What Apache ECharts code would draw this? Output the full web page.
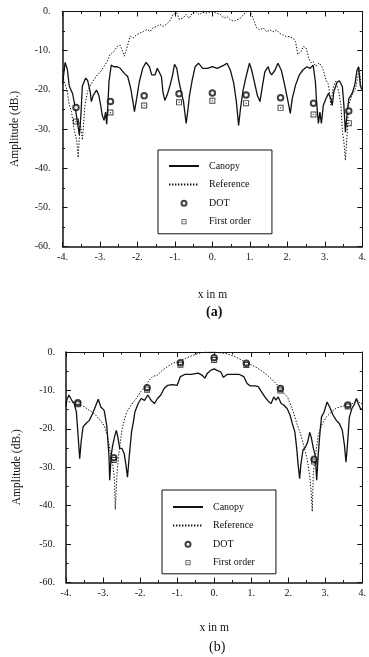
<!DOCTYPE html>
<html><head><meta charset="utf-8">
<script src="https://cdn.jsdelivr.net/npm/echarts@6/dist/echarts.min.js"></script>
<style>html,body{margin:0;padding:0;background:#fff}#c{width:369px;height:657px}</style>
</head><body><div id="c"></div>
<script>
// ---------- data (x in m, amplitude in dB) ----------
const xTicks = [-4, -3, -2, -1, 0, 1, 2, 3, 4];
const yTicks = [-60, -50, -40, -30, -20, -10, 0];
const legendNames = ['Canopy', 'Reference', 'DOT', 'First order'];

// panel (a)
const canopyA = [[-4.0,-18.5],[-3.93,-13.0],[-3.87,-14.8],[-3.82,-19.0],[-3.73,-21.0],[-3.67,-24.0],[-3.60,-28.3],[-3.55,-31.5],[-3.51,-26.6],[-3.47,-19.0],[-3.38,-17.0],[-3.33,-17.6],[-3.26,-20.5],[-3.23,-23.0],[-3.18,-21.4],[-3.09,-20.1],[-3.03,-21.4],[-2.98,-24.0],[-2.94,-26.5],[-2.89,-27.8],[-2.85,-25.7],[-2.82,-28.8],[-2.79,-24.0],[-2.76,-18.0],[-2.70,-13.7],[-2.63,-14.1],[-2.54,-14.1],[-2.46,-14.5],[-2.35,-15.8],[-2.26,-16.6],[-2.18,-19.6],[-2.12,-23.0],[-2.08,-25.6],[-2.02,-22.2],[-1.95,-18.0],[-1.86,-14.5],[-1.77,-13.0],[-1.68,-14.1],[-1.62,-16.2],[-1.53,-16.2],[-1.47,-14.5],[-1.42,-15.0],[-1.36,-16.6],[-1.32,-20.5],[-1.27,-22.7],[-1.21,-21.4],[-1.14,-19.2],[-1.07,-16.6],[-1.01,-13.5],[-0.95,-14.5],[-0.89,-18.0],[-0.83,-20.5],[-0.77,-23.0],[-0.70,-28.6],[-0.66,-25.7],[-0.61,-21.4],[-0.54,-17.6],[-0.46,-14.1],[-0.37,-13.2],[-0.26,-14.5],[-0.13,-14.5],[0,-14.1],[0.13,-14.5],[0.31,-13.7],[0.39,-13.2],[0.48,-15.0],[0.57,-18.3],[0.64,-23.0],[0.70,-29.1],[0.75,-24.8],[0.82,-20.1],[0.90,-16.6],[0.99,-13.2],[1.05,-15.0],[1.14,-18.8],[1.20,-21.4],[1.27,-23.0],[1.34,-18.8],[1.40,-15.4],[1.49,-14.1],[1.53,-15.4],[1.58,-16.2],[1.67,-15.0],[1.75,-13.2],[1.84,-15.0],[1.93,-18.8],[2.02,-23.0],[2.08,-26.0],[2.13,-22.3],[2.22,-18.8],[2.32,-16.2],[2.41,-15.0],[2.52,-14.1],[2.61,-14.5],[2.69,-13.7],[2.75,-18.0],[2.78,-23.0],[2.83,-28.6],[2.87,-25.7],[2.91,-28.6],[2.96,-24.0],[3.03,-22.3],[3.10,-20.9],[3.16,-22.3],[3.20,-24.0],[3.24,-20.5],[3.33,-18.0],[3.39,-17.7],[3.47,-19.2],[3.51,-24.0],[3.55,-30.8],[3.60,-25.7],[3.64,-22.3],[3.73,-20.9],[3.80,-18.8],[3.86,-15.0],[3.90,-14.1],[3.95,-19.0],[4.0,-20.0]];
const referenceA = [[-4.0,-16.5],[-3.95,-16.6],[-3.88,-20.0],[-3.82,-23.8],[-3.76,-25.5],[-3.70,-29.7],[-3.62,-33.0],[-3.58,-37.3],[-3.53,-28.2],[-3.47,-32.8],[-3.43,-28.0],[-3.40,-23.8],[-3.33,-20.4],[-3.25,-18.7],[-3.16,-17.4],[-3.07,-16.2],[-2.98,-15.3],[-2.89,-14.0],[-2.81,-12.8],[-2.73,-11.0],[-2.63,-10.2],[-2.54,-8.9],[-2.46,-8.6],[-2.41,-9.8],[-2.35,-11.4],[-2.26,-8.6],[-2.19,-6.3],[-2.11,-6.7],[-2.02,-5.9],[-1.93,-5.5],[-1.84,-5.1],[-1.75,-4.6],[-1.66,-5.1],[-1.58,-4.1],[-1.49,-3.8],[-1.40,-3.3],[-1.32,-3.8],[-1.23,-3.3],[-1.14,-2.5],[-1.05,-0.8],[-0.96,-0.2],[-0.88,-2.0],[-0.79,-1.7],[-0.70,-0.8],[-0.62,-1.7],[-0.53,-0.4],[-0.44,0],[-0.35,-0.8],[-0.26,-0.2],[-0.18,-0.4],[-0.09,-0.2],[0,0],[0.04,-0.3],[0.22,-0.8],[0.31,-1.7],[0.39,-1.3],[0.48,-2.1],[0.57,-2.5],[0.66,-2.1],[0.75,-1.7],[0.83,-0.8],[0.92,0],[1.01,0],[1.10,-2.1],[1.18,-4.2],[1.27,-4.7],[1.36,-4.2],[1.45,-5.2],[1.54,-4.7],[1.62,-5.2],[1.71,-4.7],[1.80,-5.6],[1.88,-6.0],[1.97,-6.4],[2.06,-6.4],[2.15,-6.8],[2.22,-7.7],[2.28,-11.0],[2.37,-10.2],[2.43,-8.9],[2.50,-9.3],[2.57,-11.8],[2.63,-13.1],[2.69,-12.8],[2.76,-14.0],[2.85,-13.1],[2.94,-14.4],[3.03,-17.4],[3.10,-18.7],[3.16,-23.8],[3.22,-19.5],[3.29,-17.8],[3.37,-20.4],[3.43,-23.8],[3.47,-30.6],[3.51,-33.2],[3.55,-38.0],[3.60,-30.6],[3.64,-23.8],[3.73,-21.3],[3.82,-19.6],[3.86,-17.8],[3.92,-14.4],[3.97,-19.6],[4.0,-20.0]];
const dotA_x = [-3.64, -2.72, -1.82, -0.89, 0, 0.90, 1.82, 2.70, 3.64];
const dotA_y = [-24.5, -23.0, -21.5, -21.0, -20.8, -21.3, -22.0, -23.4, -25.4];
const firstA_y = [-28.1, -25.8, -24.0, -23.2, -22.8, -23.4, -24.6, -26.3, -28.5];

// panel (b)
const canopyB = [[-4.0,-14.3],[-3.98,-12.5],[-3.92,-11.2],[-3.85,-12.5],[-3.78,-13.4],[-3.72,-15.6],[-3.68,-20.8],[-3.63,-27.8],[-3.59,-23.3],[-3.54,-19.5],[-3.46,-18.6],[-3.37,-17.8],[-3.28,-16.0],[-3.19,-13.8],[-3.13,-12.3],[-3.06,-14.3],[-2.97,-15.2],[-2.90,-19.1],[-2.84,-26.9],[-2.82,-33.4],[-2.78,-26.9],[-2.74,-24.3],[-2.68,-21.7],[-2.64,-20.4],[-2.60,-22.1],[-2.55,-25.1],[-2.49,-25.1],[-2.43,-26.4],[-2.38,-29.5],[-2.34,-32.6],[-2.29,-26.9],[-2.23,-20.8],[-2.18,-18.2],[-2.14,-15.6],[-2.05,-13.4],[-1.97,-12.1],[-1.88,-12.6],[-1.79,-11.2],[-1.70,-12.6],[-1.61,-13.4],[-1.53,-12.1],[-1.44,-11.2],[-1.35,-9.5],[-1.26,-8.7],[-1.13,-8.5],[-1.00,-8.7],[-0.91,-6.4],[-0.78,-5.8],[-0.61,-5.8],[-0.43,-5.5],[-0.33,-6.0],[-0.25,-6.8],[-0.18,-5.5],[-0.08,-4.7],[0,-4.4],[0.08,-4.8],[0.18,-5.2],[0.25,-6.6],[0.36,-5.8],[0.50,-5.8],[0.67,-5.8],[0.80,-6.4],[0.89,-8.2],[0.97,-8.8],[1.11,-8.8],[1.19,-9.0],[1.28,-10.4],[1.37,-11.7],[1.46,-12.8],[1.54,-13.4],[1.61,-11.7],[1.67,-12.5],[1.73,-11.7],[1.81,-13.4],[1.88,-13.8],[1.97,-14.7],[2.05,-16.4],[2.11,-18.6],[2.18,-20.8],[2.23,-25.1],[2.27,-29.5],[2.31,-33.0],[2.34,-29.5],[2.40,-25.5],[2.47,-24.7],[2.53,-23.3],[2.58,-20.9],[2.62,-22.1],[2.68,-25.1],[2.73,-26.9],[2.77,-33.4],[2.81,-26.9],[2.86,-20.8],[2.90,-16.9],[2.97,-15.6],[3.05,-13.0],[3.12,-14.3],[3.21,-16.4],[3.30,-17.8],[3.38,-18.6],[3.46,-20.3],[3.52,-24.3],[3.56,-28.7],[3.60,-24.3],[3.65,-17.1],[3.72,-14.7],[3.78,-13.8],[3.84,-12.1],[3.89,-13.4],[3.95,-14.7],[4.0,-15.0]];
const referenceB = [[-4.0,-13.0],[-3.85,-13.0],[-3.68,-13.4],[-3.50,-14.3],[-3.37,-15.2],[-3.24,-16.0],[-3.11,-17.4],[-2.97,-19.1],[-2.88,-21.7],[-2.82,-25.1],[-2.76,-27.8],[-2.69,-33.0],[-2.67,-41.0],[-2.62,-31.3],[-2.58,-26.9],[-2.53,-23.3],[-2.49,-20.3],[-2.43,-17.8],[-2.36,-15.6],[-2.27,-14.3],[-2.18,-13.0],[-2.10,-12.1],[-1.99,-10.4],[-1.88,-9.3],[-1.75,-7.3],[-1.66,-6.4],[-1.53,-6.0],[-1.39,-4.7],[-1.26,-3.8],[-1.13,-3.0],[-0.96,-2.4],[-0.78,-1.7],[-0.61,-1.0],[-0.43,-0.4],[-0.26,0],[0,0],[0.32,-0.4],[0.58,-1.3],[0.84,-2.6],[1.02,-3.4],[1.19,-4.3],[1.37,-5.5],[1.54,-6.9],[1.72,-8.7],[1.85,-10.4],[1.98,-11.7],[2.09,-14.3],[2.18,-16.9],[2.25,-19.1],[2.33,-21.2],[2.42,-24.3],[2.51,-27.8],[2.58,-32.2],[2.62,-36.5],[2.65,-41.5],[2.68,-31.3],[2.75,-26.1],[2.81,-21.7],[2.90,-19.1],[3.03,-16.9],[3.17,-15.6],[3.30,-14.6],[3.47,-14.1],[3.60,-13.8],[3.74,-13.4],[3.87,-12.5],[3.95,-13.4],[4.0,-13.4]];
const dotB_x = [-3.68, -2.71, -1.81, -0.91, 0, 0.87, 1.79, 2.70, 3.61];
const dotB_y = [-13.2, -27.5, -9.3, -2.8, -1.5, -2.9, -9.5, -27.9, -13.8];
const firstB_y = [-13.6, -28.1, -9.8, -3.3, -2.1, -3.4, -10.0, -28.5, -14.2];

// ---------- chart ----------
const FONT = 'Liberation Serif';
const INK = '#111';
const squareDot = 'path://M0,0H10V10H0Z M1.6,8.4H8.4V1.6H1.6Z M4,4H6V6H4Z';
const zip = (xs, ys) => xs.map((x, i) => [x, ys[i]]);

function xAxes(g, nameGap) {
  const base = {
    gridIndex: g, type: 'value', min: xTicks[0], max: xTicks[xTicks.length - 1], interval: 1,
    axisLine: { onZero: false, lineStyle: { color: INK, width: 1.5 } },
    axisTick: { inside: true, length: 5, lineStyle: { color: INK, width: 1 } },
    minorTick: { show: true, splitNumber: 2, length: 2.5, lineStyle: { color: INK, width: 1 } },
    splitLine: { show: false }
  };
  return [
    Object.assign({}, base, {
      position: 'bottom',
      axisLabel: { formatter: v => v + '.', fontFamily: FONT, fontSize: 10, color: INK, margin: 6 },
      name: 'x in m', nameLocation: 'middle', nameGap: nameGap,
      nameTextStyle: { fontFamily: FONT, fontSize: 11.5, color: INK }
    }),
    Object.assign({}, base, { position: 'top', axisLabel: { show: false },
      axisLine: { onZero: false, lineStyle: { color: INK, width: 1 } } })
  ];
}
function yAxes(g, nameGap, margin) {
  const base = {
    gridIndex: g, type: 'value', min: yTicks[0], max: yTicks[yTicks.length - 1], interval: 10,
    axisLine: { onZero: false, lineStyle: { color: INK, width: 1.5 } },
    axisTick: { inside: true, length: 5, lineStyle: { color: INK, width: 1 } },
    minorTick: { show: true, splitNumber: 2, length: 2.5, lineStyle: { color: INK, width: 1 } },
    splitLine: { show: false }
  };
  return [
    Object.assign({}, base, {
      position: 'left',
      axisLabel: { formatter: v => v + '.', fontFamily: FONT, fontSize: 10, color: INK, margin: margin },
      name: 'Amplitude (dB.)', nameLocation: 'middle', nameGap: nameGap,
      nameTextStyle: { fontFamily: FONT, fontSize: 11.5, color: INK }
    }),
    Object.assign({}, base, { position: 'right', axisLabel: { show: false },
      axisLine: { onZero: false, lineStyle: { color: INK, width: 1 } } })
  ];
}
function seriesFor(g, canopy, reference, dotX, dotY, firstY) {
  const xi = g * 2, yi = g * 2;
  return [
    { name: 'Canopy', type: 'line', xAxisIndex: xi, yAxisIndex: yi, data: canopy, symbol: 'none',
      lineStyle: { color: INK, width: 1.3 }, itemStyle: { color: INK }, animation: false, z: 3 },
    { name: 'Reference', type: 'line', xAxisIndex: xi, yAxisIndex: yi, data: reference, symbol: 'none',
      lineStyle: { color: INK, width: 1, type: [1.4, 1.6] }, itemStyle: { color: INK }, animation: false, z: 2 },
    { name: 'DOT', type: 'scatter', xAxisIndex: xi, yAxisIndex: yi, data: zip(dotX, dotY),
      symbol: 'emptyCircle', symbolSize: 5.5, symbolKeepAspect: true,
      itemStyle: { color: INK, borderColor: INK, borderWidth: 1 }, animation: false, z: 4 },
    { name: 'First order', type: 'scatter', xAxisIndex: xi, yAxisIndex: yi, data: zip(dotX, firstY),
      symbol: squareDot, symbolSize: 6, symbolKeepAspect: true,
      itemStyle: { color: INK }, animation: false, z: 4 }
  ];
}
function legendAt(left, top, pad) {
  const hidden = { color: 'rgba(0,0,0,0)', borderColor: 'rgba(0,0,0,0)', borderWidth: 0, opacity: 0 };
  return {
    orient: 'vertical', left: left, top: top, padding: pad,
    itemWidth: 30, itemHeight: 5, itemGap: 6.6, selectedMode: false,
    borderColor: INK, borderWidth: 1, backgroundColor: '#fff',
    textStyle: { fontFamily: FONT, fontSize: 10, color: INK, lineHeight: 12, padding: [0, 0, 0, 5] },
    data: [
      { name: legendNames[0], itemStyle: hidden },
      { name: legendNames[1], itemStyle: hidden },
      legendNames[2],
      legendNames[3]
    ]
  };
}

const chart = echarts.init(document.getElementById('c'), null, { renderer: 'canvas' });
chart.setOption({
  animation: false,
  backgroundColor: '#fff',
  title: [
    { text: '(a)', left: 206, top: 305, padding: 0,
      textStyle: { fontFamily: FONT, fontSize: 14, fontWeight: 'bold', color: INK } },
    { text: '(b)', left: 209, top: 640, padding: 0,
      textStyle: { fontFamily: FONT, fontSize: 14, fontWeight: 'normal', color: INK } }
  ],
  grid: [
    { left: 62.5, right: 3, top: 11.5, height: 235 },
    { left: 66, right: 1, top: 352, height: 230.5 }
  ],
  xAxis: xAxes(0, 42).concat(xAxes(1, 39)),
  yAxis: yAxes(0, 42, 12).concat(yAxes(1, 43, 11)),
  legend: [legendAt(158, 150, [10, 21, 6, 10]), legendAt(162, 490, [11, 21, 5, 10])],
  series: seriesFor(0, canopyA, referenceA, dotA_x, dotA_y, firstA_y)
    .concat(seriesFor(1, canopyB, referenceB, dotB_x, dotB_y, firstB_y))
});
</script>
</body></html>
